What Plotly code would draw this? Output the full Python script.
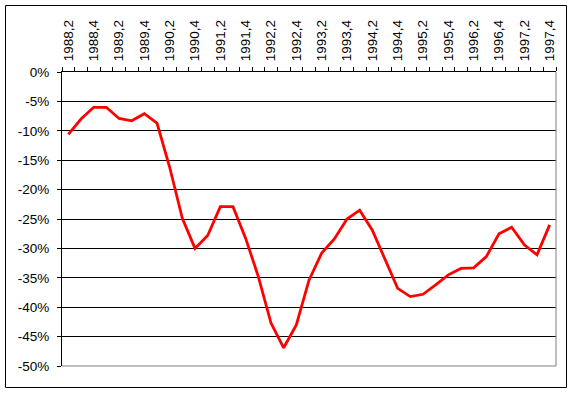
import plotly.graph_objects as go

quarters = [
    "1988,2", "1988,3", "1988,4",
    "1989,1", "1989,2", "1989,3", "1989,4",
    "1990,1", "1990,2", "1990,3", "1990,4",
    "1991,1", "1991,2", "1991,3", "1991,4",
    "1992,1", "1992,2", "1992,3", "1992,4",
    "1993,1", "1993,2", "1993,3", "1993,4",
    "1994,1", "1994,2", "1994,3", "1994,4",
    "1995,1", "1995,2", "1995,3", "1995,4",
    "1996,1", "1996,2", "1996,3", "1996,4",
    "1997,1", "1997,2", "1997,3", "1997,4",
]

values = [
    -10.6, -8.0, -6.0,
    -6.0, -7.9, -8.3, -7.1,
    -8.7, -16.2, -24.9, -30.0,
    -27.8, -22.9, -22.9, -28.3,
    -34.8, -42.7, -46.9, -43.0,
    -35.4, -30.8, -28.4, -25.0,
    -23.5, -26.9, -32.0, -36.8,
    -38.2, -37.8, -36.2, -34.5,
    -33.4, -33.3, -31.4, -27.5,
    -26.4, -29.4, -31.1, -26.0,
]

y_tickvals = [0, -5, -10, -15, -20, -25, -30, -35, -40, -45, -50]
y_ticktext = ["0%", "-5%", "-10%", "-15%", "-20%", "-25%", "-30%", "-35%", "-40%", "-45%", "-50%"]

x_ticktext = [q if i % 2 == 0 else "" for i, q in enumerate(quarters)]

font = dict(family="Liberation Sans, Arial, sans-serif", size=13.5, color="black")

fig = go.Figure()
fig.add_trace(go.Scatter(
    x=quarters, y=values, mode="lines",
    line=dict(color="#FF0000", width=2.8),
    showlegend=False, hoverinfo="skip",
))

W, H = 573, 395
L, R, T, B = 62, 17, 72, 29
pw, ph = W - L - R, H - T - B

def px(x):
    return (x - L) / pw

def py(y):
    return (H - B - y) / ph

fig.update_layout(
    width=W, height=H,
    margin=dict(l=L, r=R, t=T, b=B, pad=0),
    paper_bgcolor="white", plot_bgcolor="white",
    font=font,
    xaxis=dict(
        type="category", side="top", automargin=False,
        range=[-0.5, len(quarters) - 0.5],
        tickmode="array", tickvals=quarters, ticktext=x_ticktext,
        tickson="boundaries", ticks="outside", ticklen=4, tickcolor="black",
        tickangle=-90, ticklabelstandoff=7,
        showline=True, linecolor="black", linewidth=1,
        showgrid=False, zeroline=False, tickfont=font,
    ),
    yaxis=dict(
        range=[-50, 0], automargin=False,
        tickmode="array", tickvals=y_tickvals, ticktext=y_ticktext,
        ticks="outside", ticklen=4, tickcolor="black", ticklabelstandoff=5,
        showline=True, linecolor="black", linewidth=1,
        showgrid=True, gridcolor="black", gridwidth=1,
        zeroline=False, tickfont=font,
    ),
    shapes=[
        dict(type="line", xref="paper", yref="paper", x0=1, x1=1, y0=0, y1=1,
             line=dict(color="#808080", width=1), layer="above"),
        dict(type="line", xref="paper", yref="paper", x0=0, x1=1, y0=0, y1=0,
             line=dict(color="#808080", width=1), layer="above"),
        dict(type="rect", xref="paper", yref="paper",
             x0=px(5.5), x1=px(566.5), y0=py(387.5), y1=py(5.5),
             line=dict(color="black", width=1), layer="above"),
    ],
)

fig.write_html(
    "out.html",
    config={"displayModeBar": False},
    post_script="document.body.style.margin='0';document.body.style.overflow='hidden';",
)
